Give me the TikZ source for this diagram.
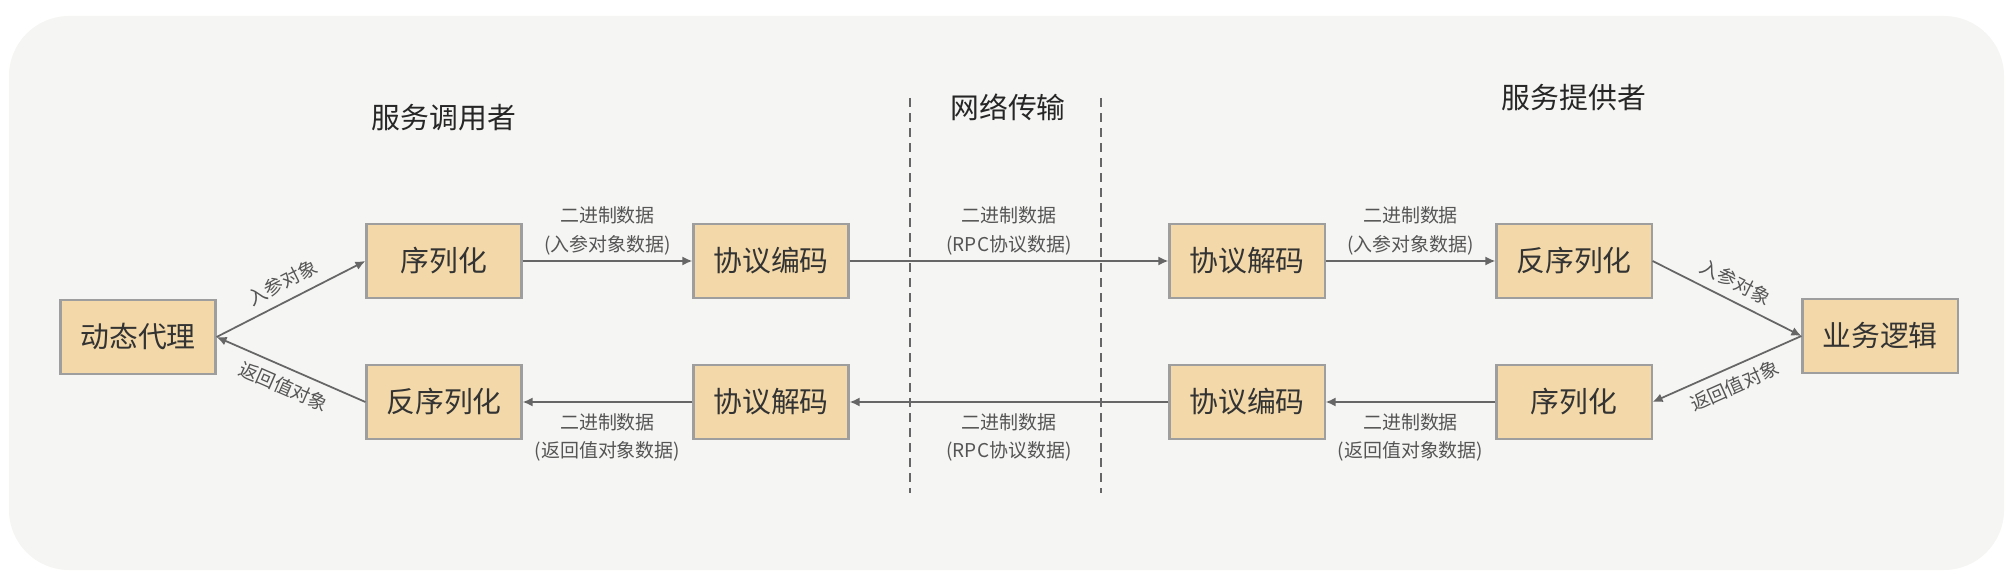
\documentclass[tikz,border=0pt]{standalone}
\usepackage{fontspec}
\newfontfamily\cjkfont{Noto Sans CJK SC}
\usepackage{tikz}
\usetikzlibrary{arrows.meta}
\definecolor{bgc}{HTML}{F5F5F3}
\definecolor{boxfill}{HTML}{F3D9A9}
\definecolor{boxline}{HTML}{9E9E9E}
\definecolor{linec}{HTML}{666666}
\definecolor{textc}{HTML}{333333}
\definecolor{lblc}{HTML}{555555}

\begin{document}
\begin{tikzpicture}[x=0.01cm, y=-0.01cm,
	box/.style={draw=boxline, line width=0.6pt, fill=boxfill, minimum width=1.55cm, minimum height=0.74cm, inner sep=0pt, text=textc, font=\cjkfont\fontsize{8.2}{10}\selectfont},
	title/.style={text=black!85, font=\cjkfont\fontsize{8.2}{10}\selectfont},
	lbl/.style={text=lblc, font=\cjkfont\fontsize{5.4}{8}\selectfont, align=center, inner sep=1.5pt},
	flow/.style={draw=linec, line width=0.5pt, -{Latex[length=1mm,width=0.9mm]}},
	sep/.style={draw=linec, line width=0.5pt, dash pattern=on 0.9mm off 0.6mm}]
\useasboundingbox (0,0) rectangle (2014,588);
\fill[bgc, rounded corners=0.6cm](9,16) rectangle (2004,570);

% titles
\node[title] (caller) at (444,118) {服务调用者};
\node[title] (net) at (1008,107) {网络传输};
\node[title] (provider) at (1574,98) {服务提供者};

% network borders
\foreach \x/\n in {910/l,1101/r}{
	\coordinate (top\n) at (\x,98);
	\coordinate (bot\n) at (\x,493);
	\draw[sep](top\n)--(bot\n);
}

% boxes
\node[box] (dyn) at (138,337) {动态代理};
\node[box] (ser1) at (444,261) {序列化};
\node[box] (enc1) at (771,261) {协议编码};
\node[box] (dec1) at (1247,261) {协议解码};
\node[box] (des1) at (1574,261) {反序列化};
\node[box] (biz) at (1880,336) {业务逻辑};
\node[box] (des2) at (444,402) {反序列化};
\node[box] (dec2) at (771,402) {协议解码};
\node[box] (enc2) at (1247,402) {协议编码};
\node[box] (ser2) at (1574,402) {序列化};

% request
\draw[flow](dyn.east)--(ser1.west) node[lbl, midway, sloped, above=1pt] (argA) {入参对象};
\draw[flow](ser1)--(enc1) node[lbl, midway, above] (binA) {二进制数据\\(入参对象数据)};
\draw[flow](enc1)--(dec1) node[lbl, midway, above] (rpcA) {二进制数据\\(RPC协议数据)};
\draw[flow](dec1)--(des1) node[lbl, midway, above] (binB) {二进制数据\\(入参对象数据)};
\draw[flow](des1.east)--(biz.west) node[lbl, midway, sloped, above=1pt] (argB) {入参对象};

% response
\draw[flow](biz.west)--(ser2.east) node[lbl, midway, sloped, below=1pt] (retB) {返回值对象};
\draw[flow](ser2)--(enc2) node[lbl, midway, below=1.5pt] (binD) {二进制数据\\(返回值对象数据)};
\draw[flow](enc2)--(dec2) node[lbl, midway, below=1.5pt] (rpcB) {二进制数据\\(RPC协议数据)};
\draw[flow](dec2)--(des2) node[lbl, midway, below=1.5pt] (binC) {二进制数据\\(返回值对象数据)};
\draw[flow](des2.west)--(dyn.east) node[lbl, midway, sloped, below=1pt] (retA) {返回值对象};
\end{tikzpicture}
\end{document}
